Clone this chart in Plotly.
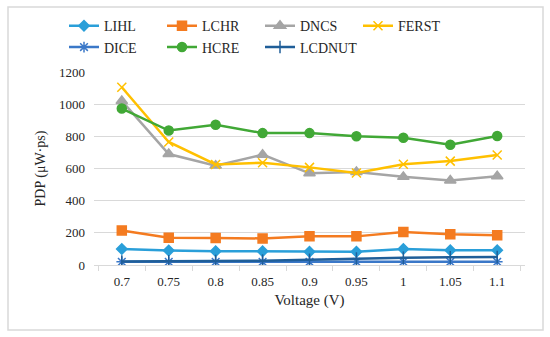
import plotly.graph_objects as go

voltages = ["0.7", "0.75", "0.8", "0.85", "0.9", "0.95", "1", "1.05", "1.1"]

lihl = [100, 90, 86, 85, 82, 82, 100, 92, 92]
lchr = [215, 170, 168, 165, 178, 178, 205, 191, 185]
dncs = [1020, 690, 618, 686, 570, 578, 548, 525, 552]
ferst = [1105, 765, 625, 636, 607, 572, 627, 646, 684]
dice = [20, 20, 20, 20, 20, 20, 20, 20, 20]
hcre = [973, 836, 872, 820, 820, 800, 791, 748, 802]
lcdnut = [22, 23, 25, 27, 32, 40, 45, 48, 50]

series = [
    ("LIHL", lihl, "#2A9FD9", "diamond", 8),
    ("LCHR", lchr, "#F47B20", "square", 9),
    ("DNCS", dncs, "#A5A5A5", "triangle-up", 10),
    ("FERST", ferst, "#FFC000", "x-thin-open", 9),
    ("DICE", dice, "#3B78C8", "asterisk-open", 9),
    ("HCRE", hcre, "#41A836", "circle", 9),
    ("LCDNUT", lcdnut, "#1F5E98", "line-ns-open", 9),
]

fig = go.Figure()
for name, vals, color, sym, size in series:
    fig.add_trace(go.Scatter(
        x=voltages, y=vals, name=name, mode="lines+markers",
        line=dict(color=color, width=2.5),
        marker=dict(symbol=sym, size=size, color=color,
                    line=dict(color=color, width=1.5)),
    ))

L, R = 55, 25
W = 550 - L - R

fig.update_layout(
    width=550, height=337,
    margin=dict(l=L, r=R, t=72, b=72, autoexpand=False),
    paper_bgcolor="white", plot_bgcolor="white",
    font=dict(family="Liberation Serif", size=13, color="#262626"),
    showlegend=True,
    legend=dict(orientation="h", x=(64 - L) / W, y=1.32, xanchor="left", yanchor="top",
                entrywidth=53, entrywidthmode="pixels", bgcolor="rgba(0,0,0,0)",
                font=dict(family="Liberation Serif", size=14, color="#262626"),
                tracegroupgap=0, itemwidth=30),
    xaxis=dict(type="category", domain=[(94 - L) / W, 1],
               showgrid=False, showline=True, linecolor="#D9D9D9",
               linewidth=1, ticks="outside", tickson="boundaries", ticklen=5,
               tickcolor="#D9D9D9", ticklabelstandoff=4,
               title=dict(text="Voltage (V)", font=dict(size=15), standoff=6),
               tickfont=dict(size=13)),
    yaxis=dict(range=[0, 1200], dtick=200, showgrid=True, gridcolor="#D9D9D9",
               gridwidth=1, zeroline=False, showline=False, ticks="",
               ticklabelstandoff=8,
               title=dict(text="PDP (μW·ps)", font=dict(size=14), standoff=10),
               tickfont=dict(size=13)),
    shapes=[dict(type="rect", xref="paper", yref="paper",
                 x0=(8 - L) / W, x1=(543 - L) / W,
                 y0=(337 - 72 - 330) / 193, y1=(337 - 72 - 7) / 193,
                 line=dict(color="#D9D9D9", width=1.5), fillcolor="rgba(0,0,0,0)",
                 layer="below")],
)

fig.write_html("out.html", config={"displayModeBar": False},
               post_script="document.body.style.margin='0';")
